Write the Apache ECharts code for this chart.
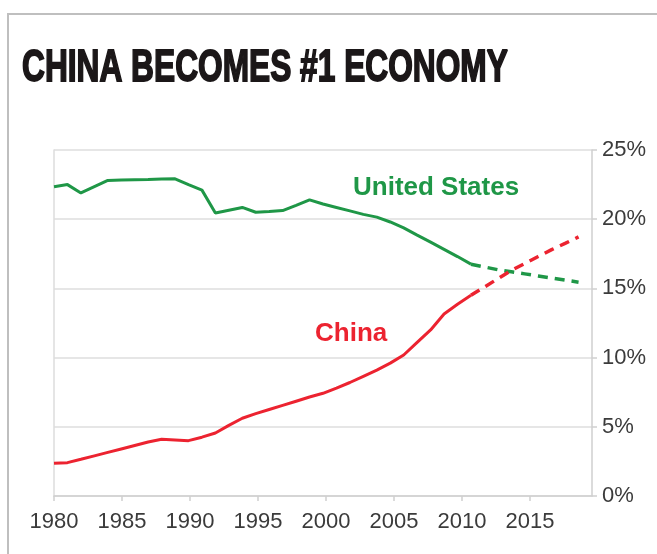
<!DOCTYPE html>
<html>
<head>
<meta charset="utf-8">
<script src="https://cdn.jsdelivr.net/npm/echarts@6/dist/echarts.min.js"></script>
<style>html,body{margin:0;padding:0;background:#fff}#c{width:657px;height:554px}</style>
</head>
<body>
<div id="c"></div>
<script>
const years = [1980,1981,1982,1983,1984,1985,1986,1987,1988,1989,
               1990,1991,1992,1993,1994,1995,1996,1997,1998,1999,
               2000,2001,2002,2003,2004,2005,2006,2007,2008,2009,
               2010,2011,2012,2013,2014,2015,2016,2017,2018,2019];
const usShare = [22.35,22.5,21.9,22.35,22.8,22.83,22.85,22.87,22.9,22.92,
                 22.5,22.1,20.45,20.65,20.85,20.5,20.55,20.62,21.0,21.4,
                 21.1,20.85,20.6,20.35,20.15,19.8,19.37,18.85,18.34,17.82,
                 17.3,16.75,16.55,16.35,16.2,16.05,15.9,15.75,15.6,15.45];
const chinaShare = [2.36,2.41,2.65,2.9,3.15,3.4,3.65,3.9,4.1,4.05,
                    4.0,4.25,4.55,5.1,5.62,5.95,6.25,6.55,6.85,7.15,
                    7.42,7.8,8.2,8.65,9.1,9.6,10.19,11.1,12.0,13.15,
                    13.85,14.5,15.1,15.7,16.3,16.8,17.3,17.8,18.25,18.72];
const lastActualYear = 2011;
const yTicks = [0,5,10,15,20,25];
const titleText = 'CHINA BECOMES #1 ECONOMY';
const usLabel = 'United States';
const chinaLabel = 'China';

const GREEN = '#1f9747';
const RED = '#ec2330';

function pairs(vals, from, to) {
  const out = [];
  years.forEach((y, i) => { if (y >= from && y <= to) out.push([y, vals[i]]); });
  return out;
}

const chart = echarts.init(document.getElementById('c'));
chart.setOption({
  animation: false,
  backgroundColor: '#fff',
  grid: { left: 54, right: 65, top: 150, bottom: 58 },
  xAxis: [
    {
      type: 'value', min: 1980, max: 2019.56, interval: 5,
      axisLine: { show: true, lineStyle: { color: '#cfcfcf', width: 1.5 } },
      axisTick: { show: true, length: 5, lineStyle: { color: '#cfcfcf', width: 1.5 } },
      splitLine: { show: false },
      axisLabel: {
        showMaxLabel: false, margin: 15,
        color: '#3b3b3b', fontFamily: 'Liberation Sans', fontSize: 22,
        formatter: v => String(v)
      }
    },
    { type: 'value', min: 1980, max: 2020, show: false }
  ],
  yAxis: [
    {
      type: 'value', position: 'right', min: 0, max: 25, interval: 5,
      axisLine: { show: true, lineStyle: { color: '#cfcfcf', width: 1.5 } },
      axisTick: { show: true, length: 5, lineStyle: { color: '#cfcfcf', width: 1.5 } },
      splitLine: { show: true, lineStyle: { color: '#dedede', width: 1.5 } },
      axisLabel: {
        margin: 10, color: '#3b3b3b', fontFamily: 'Liberation Sans', fontSize: 22,
        formatter: v => yTicks.includes(v) ? v + '%' : ''
      }
    },
    {
      type: 'value', position: 'left', min: 0, max: 25,
      axisLine: { show: true, lineStyle: { color: '#dcdcdc', width: 1.5 } },
      axisTick: { show: false }, axisLabel: { show: false }, splitLine: { show: false }
    }
  ],
  series: [
    { type: 'line', xAxisIndex: 1, yAxisIndex: 0, showSymbol: false, z: 3,
      data: pairs(usShare, 1980, lastActualYear),
      lineStyle: { color: GREEN, width: 3 } },
    { type: 'line', xAxisIndex: 1, yAxisIndex: 0, showSymbol: false, z: 3,
      data: pairs(usShare, lastActualYear, 2019),
      lineStyle: { color: GREEN, width: 3.5, type: [10, 7] } },
    { type: 'line', xAxisIndex: 1, yAxisIndex: 0, showSymbol: false, z: 4,
      data: pairs(chinaShare, 1980, lastActualYear),
      lineStyle: { color: RED, width: 3 } },
    { type: 'line', xAxisIndex: 1, yAxisIndex: 0, showSymbol: false, z: 4,
      data: pairs(chinaShare, lastActualYear, 2019),
      lineStyle: { color: RED, width: 3.5, type: [10, 7] } }
  ],
  graphic: [
    { type: 'rect', silent: true, z: 0,
      shape: { x: 8, y: 14, width: 700, height: 600 },
      style: { fill: 'none', stroke: '#bfbfbf', lineWidth: 2 } },
    { type: 'text', x: 22, y: 69, scaleX: 0.72, z: 10,
      style: { text: titleText, x: 0, y: 0, fill: '#1b1718', stroke: '#1b1718', lineWidth: 1.8,
               font: 'bold 44px "Liberation Sans"', textVerticalAlign: 'middle' } },
    { type: 'text', x: 353, y: 188, z: 10,
      style: { text: usLabel, fill: GREEN, font: 'bold 26px "Liberation Sans"', textVerticalAlign: 'middle' } },
    { type: 'text', x: 315, y: 334, z: 10,
      style: { text: chinaLabel, fill: RED, font: 'bold 26px "Liberation Sans"', textVerticalAlign: 'middle' } }
  ]
});
</script>
</body>
</html>
